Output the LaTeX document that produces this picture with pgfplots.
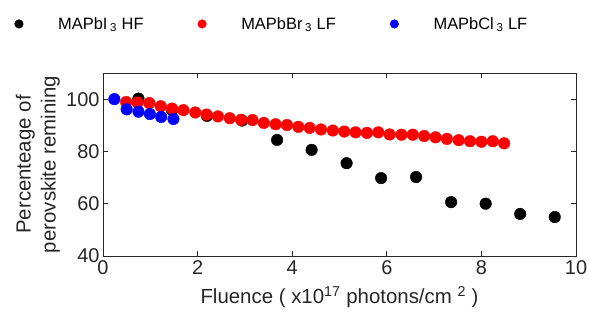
\documentclass[border=0pt]{standalone}
\usepackage{fontspec}
\setmainfont{Liberation Sans}
\usepackage{pgfplots}
\pgfplotsset{compat=1.18}
\definecolor{axgray}{RGB}{38,38,38}
\begin{document}
\begin{tikzpicture}[x=1bp,y=1bp]
\useasboundingbox (-103bp,-66bp) rectangle (487bp,256bp);
\begin{axis}[
  at={(0bp,0bp)}, anchor=south west,
  scale only axis, width=473bp, height=183bp,
  xmin=0, xmax=10, ymin=40, ymax=110,
  xtick={0,2,...,10}, ytick={40,60,80,100},
  tick align=inside, major tick length=5bp,
  axis line style={axgray, line width=0.8pt},
  every tick/.style={axgray, line width=0.8pt},
  tick label style={font=\fontsize{20}{22}\selectfont, text=axgray},
  xticklabel style={yshift=-1bp},
  /pgf/number format/assume math mode=true,
  xlabel={Fluence ( x10\textsuperscript{17} photons/cm \textsuperscript{2} )},
  xlabel style={font=\fontsize{20.5}{24}\selectfont, text=axgray, yshift=-5bp},
  ylabel={\begin{tabular}{@{}c@{}}Percenteage of\\[-1bp]perovskite remining\end{tabular}},
  ylabel style={font=\fontsize{20.5}{26}\selectfont, text=axgray, yshift=-4bp},
  legend columns=3,
  legend style={draw=none, fill=none, at={(axis description cs:0.357,1.268)}, anchor=center,
    font=\fontsize{16.5}{19}\selectfont, text=black,
    /tikz/every even column/.append style={column sep=52bp}},
  legend image code/.code={\fill (0bp,0bp) circle (4.3bp); \path (-4bp,0bp) (37bp,0bp);},
]
\addplot[only marks, mark=*, mark size=5.8bp, black, mark options={draw=black, fill=black}] coordinates {
(0.75,100.2) (1.46,95.8) (2.2,93.6) (2.94,91.8) (3.68,84.4) (4.41,80.6) (5.15,75.5)
(5.88,69.8) (6.62,70.2) (7.36,60.6) (8.09,60.0) (8.82,56.1) (9.55,54.9)
};
\addlegendentry{MAPbI\,\textsubscript{3} HF}
\addplot[only marks, mark=*, mark size=5.8bp, red, mark options={draw=red, fill=red}] coordinates {
(0.49,98.9) (0.73,98.7) (0.98,98.5) (1.22,97.3) (1.46,96.4) (1.70,95.8) (1.95,94.9)
(2.19,94.1) (2.43,93.4) (2.68,92.7) (2.92,92.1) (3.16,92.0) (3.40,90.9) (3.65,90.4)
(3.89,90.1) (4.13,89.4) (4.37,89.0) (4.61,88.4) (4.86,88.0) (5.10,87.6) (5.34,87.3)
(5.58,87.1) (5.82,87.3) (6.06,86.5) (6.31,86.4) (6.55,86.4) (6.79,85.9) (7.03,85.4)
(7.27,84.8) (7.52,84.3) (7.76,83.9) (8.00,83.7) (8.24,83.9) (8.48,83.1)
};
\addlegendentry{MAPbBr\,\textsubscript{3} LF}
\addplot[only marks, mark=*, mark size=5.8bp, blue, mark options={draw=blue, fill=blue}] coordinates {
(0.24,100.0) (0.50,96.1) (0.75,95.2) (0.99,94.3) (1.23,93.2) (1.49,92.4)
};
\addlegendentry{MAPbCl\,\textsubscript{3} LF}
\end{axis}
\end{tikzpicture}
\end{document}
